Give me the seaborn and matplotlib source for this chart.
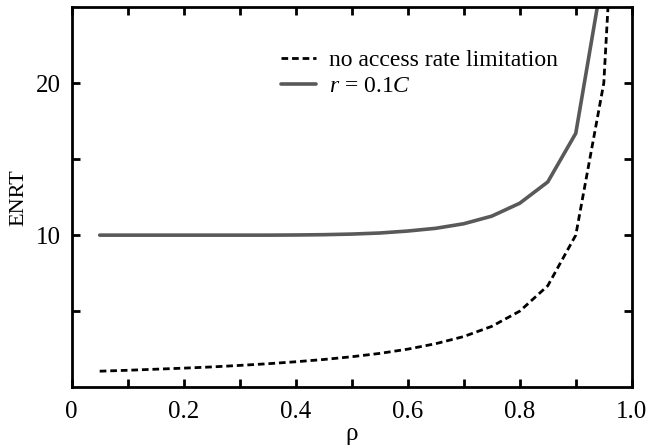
import matplotlib
matplotlib.use("Agg")
import matplotlib.pyplot as plt
import pandas as pd
import seaborn as sns

# load values
rho = [0.05, 0.10, 0.15, 0.20, 0.25, 0.30, 0.35, 0.40, 0.45, 0.50,
       0.55, 0.60, 0.65, 0.70, 0.75, 0.80, 0.85, 0.90, 0.95, 0.97]
enrt_no_limit = [1.05, 1.11, 1.18, 1.25, 1.33, 1.43, 1.54, 1.67, 1.82, 2.0,
                 2.22, 2.5, 2.86, 3.33, 4.0, 5.0, 6.67, 10.0, 20.0, 33.3]
enrt_limited = [10.0, 10.0, 10.0, 10.0, 10.0, 10.0, 10.0, 10.01, 10.03, 10.07,
                10.14, 10.27, 10.45, 10.75, 11.25, 12.1, 13.5, 16.7, 27.5, 40.0]

x_ticks = [0, 0.2, 0.4, 0.6, 0.8, 1.0]
x_labels = ["0", "0.2", "0.4", "0.6", "0.8", "1.0"]
y_ticks = [10, 20]

df = pd.DataFrame({"rho": rho,
                   "no_limit": enrt_no_limit,
                   "limited": enrt_limited})

sns.set_style("ticks")
plt.rcParams["font.family"] = ["Liberation Serif", "DejaVu Serif"]
plt.rcParams["mathtext.fontset"] = "custom"
plt.rcParams["mathtext.it"] = "Liberation Serif:italic"
plt.rcParams["mathtext.rm"] = "Liberation Serif"
plt.rcParams["text.color"] = "black"
plt.rcParams["axes.labelcolor"] = "black"

fig, ax = plt.subplots(figsize=(6.46, 4.45), dpi=100)
fig.subplots_adjust(left=0.111, right=0.978, top=0.984, bottom=0.130)

sns.lineplot(data=df, x="rho", y="no_limit", ax=ax, color="black",
             linewidth=2.0, linestyle=(0, (2.4, 1.4)),
             label="no access rate limitation")
sns.lineplot(data=df, x="rho", y="limited", ax=ax, color="#595959",
             linewidth=2.6, label=r"$r$ = 0.1$C$")

ax.set_xlim(0, 1.0)
ax.set_ylim(0, 25)
ax.set_xticks(x_ticks)
ax.set_xticklabels(x_labels)
ax.set_xticks([0.1, 0.3, 0.5, 0.7, 0.9], minor=True)
ax.set_yticks(y_ticks)
ax.set_yticks([5, 15], minor=True)

ax.tick_params(which="both", direction="in", top=True, right=True,
               length=6, width=2, labelsize=18, pad=8,
               color="black", labelcolor="black")
ax.tick_params(axis="x", pad=10)
for side in ax.spines.values():
    side.set_linewidth(2)
    side.set_color("black")

ax.set_xlabel("ρ", fontsize=18, labelpad=0)
ax.set_ylabel("ENRT", fontsize=16, labelpad=5)

ax.legend(loc="upper left", bbox_to_anchor=(0.373, 0.888), frameon=False,
          fontsize=17, handlelength=1.5, handletextpad=0.55, labelspacing=0.2,
          borderaxespad=0, borderpad=0)

fig.savefig("out.png", dpi=100)
